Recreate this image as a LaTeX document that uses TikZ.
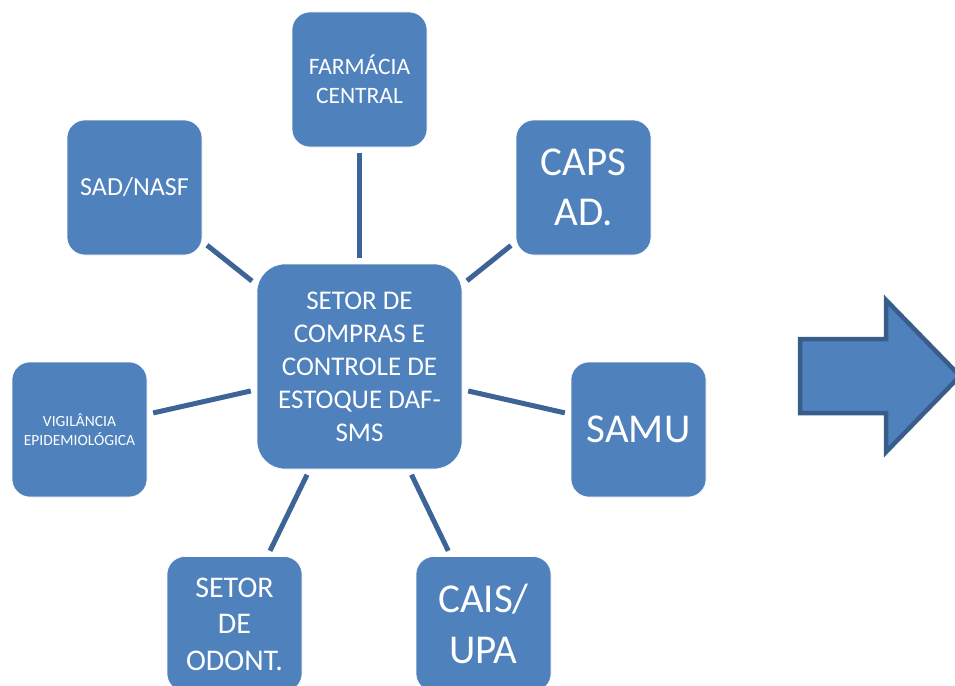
\documentclass[tikz,border=0pt]{standalone}
\usepackage{fontspec}
\setmainfont{Carlito}
\definecolor{boxblue}{HTML}{4F81BD}
\definecolor{linkblue}{HTML}{3C6496}
\definecolor{arrowedge}{HTML}{385D8A}
\begin{document}
\begin{tikzpicture}[x=1pt,y=-1pt,
  box/.style={draw=white, line width=0.6pt, fill=boxblue, rounded corners=18pt, text=white,
    align=center, minimum width=135pt, minimum height=135pt, inner sep=0pt},
  link/.style={draw=linkblue, line width=5pt, shorten <=6pt, shorten >=6pt}]
\useasboundingbox (0,0) rectangle (955,685);
\node[box, minimum width=205pt, minimum height=205pt, rounded corners=28pt,
  font=\fontsize{27}{33}\selectfont] (c) at (359.5,366.5)
  {SETOR DE\\COMPRAS E\\CONTROLE DE\\ESTOQUE DAF-\\SMS};
\node[box, font=\fontsize{23.5}{29}\selectfont] (farm) at (359.5,79.5) {FARMÁCIA\\CENTRAL};
\node[box, font=\fontsize{26}{32}\selectfont] (sad) at (134.5,187.5) {SAD/NASF};
\node[box, font=\fontsize{41}{50}\selectfont] (caps) at (583.5,187.5) {CAPS\\AD.};
\node[box, font=\fontsize{15.5}{18.5}\selectfont] (vig) at (79.5,429.5) {VIGILÂNCIA\\EPIDEMIOLÓGICA};
\node[box, font=\fontsize{41}{50}\selectfont] (samu) at (638.5,429.5) {SAMU};
\node[box, font=\fontsize{30}{36.5}\selectfont] (odont) at (234.5,624) {SETOR\\DE\\ODONT.};
\node[box, font=\fontsize{41}{51}\selectfont] (cais) at (483.5,624) {CAIS/\\UPA};
\draw[link] (farm) -- (c);
\draw[link] (sad) -- (c);
\draw[link] (caps) -- (c);
\draw[link] (vig) -- (c);
\draw[link] (samu) -- (c);
\draw[link] (odont) -- (c);
\draw[link] (cais) -- (c);
\draw[draw=arrowedge, fill=boxblue, line width=4.5pt, line join=miter]
  (800,339) -- (886,339) -- (886,300) -- (960,376) -- (886,452) -- (886,413) -- (800,413) -- cycle;
\end{tikzpicture}
\end{document}
